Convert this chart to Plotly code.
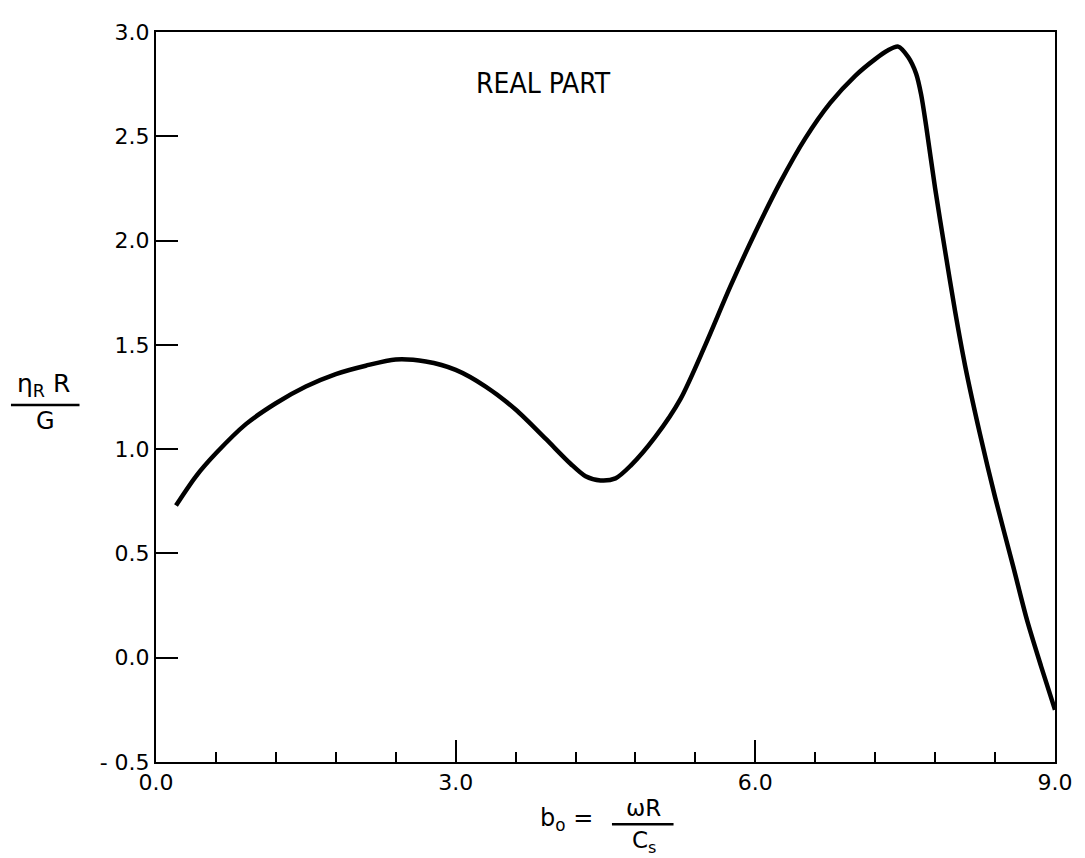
import plotly.graph_objects as go

# Data
b0 = [0.2, 0.4, 0.6, 0.9, 1.2, 1.5, 1.8, 2.1, 2.4, 2.7, 3.0, 3.3, 3.6, 3.9, 4.15, 4.3,
      4.45, 4.6, 4.75, 5.0, 5.25, 5.5, 5.75, 6.0, 6.25, 6.5, 6.75, 7.0, 7.2, 7.32, 7.43,
      7.53, 7.61, 7.66, 7.71, 7.8, 7.9, 8.0, 8.1, 8.25, 8.4, 8.58, 8.72, 8.86, 9.0]
eta = [0.73, 0.87, 0.98, 1.12, 1.22, 1.30, 1.36, 1.40, 1.43, 1.42, 1.38, 1.30, 1.19, 1.05,
       0.93, 0.87, 0.85, 0.86, 0.92, 1.06, 1.24, 1.50, 1.78, 2.04, 2.28, 2.49, 2.66, 2.79,
       2.87, 2.91, 2.93, 2.88, 2.80, 2.70, 2.55, 2.25, 1.95, 1.66, 1.40, 1.07, 0.77, 0.44,
       0.18, -0.04, -0.25]

x_ticks = [0, 3, 6, 9]
x_ticktext = ["0.0", "3.0", "6.0", "9.0"]
y_ticks = [-0.5, 0, 0.5, 1.0, 1.5, 2.0, 2.5, 3.0]
y_ticktext = ["- 0.5", "0.0", "0.5", "1.0", "1.5", "2.0", "2.5", "3.0"]

FONT = "DejaVu Sans, Liberation Sans, sans-serif"

fig = go.Figure()
fig.add_trace(go.Scatter(x=b0, y=eta, mode="lines",
                         line=dict(color="black", width=4.5, shape="spline", smoothing=0.8),
                         showlegend=False, hoverinfo="skip"))

# page has an 8px body margin; compensate so the plot area sits at
# page x 156..1061, y 24..762
W, H = 1077, 850
ml, mr, mt, mb = 148, 24, 16, 96
OFF = 8
PL, PT = ml + OFF, mt + OFF
pw, ph = W - ml - mr, H - mt - mb

def px(xpix):
    return (xpix - PL) / pw

def py(ypix):
    return (PT + ph - ypix) / ph

def ann(x, y, text, size=22, family=FONT):
    return dict(x=px(x), y=py(y), xref="paper", yref="paper", text=text, showarrow=False,
                xanchor="center", yanchor="middle",
                font=dict(family=family, size=size, color="black"))

annots = [
    ann(546, 76, "REAL PART", size=28, family="Liberation Sans Narrow, DejaVu Sans Condensed, sans-serif"),
    ann(43, 381, "η<sub>R</sub> R", size=25),
    ann(45, 417, "G", size=24),
    ann(569, 820, "b<sub>o</sub> =", size=24),
    ann(647, 808, "ωR", size=23),
    ann(647, 843, "C<sub>s</sub>", size=23),
]

shapes = [
    dict(type="line", xref="paper", yref="paper", x0=px(10), x1=px(79), y0=py(401), y1=py(401),
         line=dict(color="black", width=2.5)),
    dict(type="line", xref="paper", yref="paper", x0=px(615), x1=px(677), y0=py(825), y1=py(825),
         line=dict(color="black", width=2.5)),
]

fig.update_layout(
    width=W, height=H,
    margin=dict(l=ml, r=mr, t=mt, b=mb),
    paper_bgcolor="white", plot_bgcolor="white",
    annotations=annots, shapes=shapes,
    xaxis=dict(range=[0, 9], tickvals=x_ticks, ticktext=x_ticktext, ticks="inside", ticklen=22,
               tickwidth=2, tickcolor="black", showline=True, linecolor="black", linewidth=2,
               mirror=True, showgrid=False, zeroline=False,
               tickfont=dict(family=FONT, size=22, color="black"),
               minor=dict(dtick=0.6, tick0=0, ticks="inside", ticklen=10, tickwidth=2,
                          tickcolor="black", showgrid=False)),
    yaxis=dict(range=[-0.5, 3.0], tickvals=y_ticks, ticktext=y_ticktext, ticks="inside", ticklen=22,
               tickwidth=2, tickcolor="black", showline=True, linecolor="black", linewidth=2,
               mirror=True, showgrid=False, zeroline=False,
               tickfont=dict(family=FONT, size=22, color="black")),
)

fig.write_html("out.html")
